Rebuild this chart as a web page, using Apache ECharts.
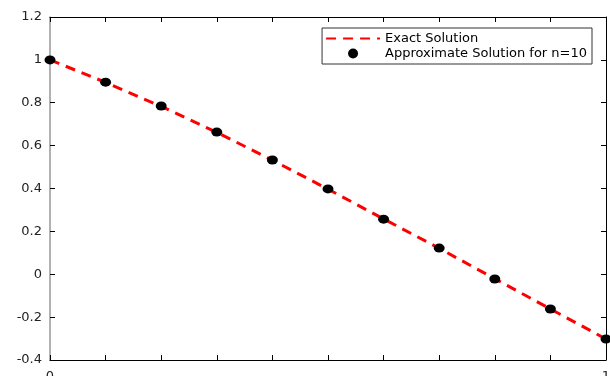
<!DOCTYPE html>
<html>
<head>
<meta charset="utf-8">
<script src="https://cdn.jsdelivr.net/npm/echarts@6/dist/echarts.min.js"></script>
<style>
  html, body { margin: 0; padding: 0; background: #fff; }
  #chart { width: 610px; height: 376px; }
</style>
</head>
<body>
<div id="chart"></div>
<script>
// x nodes and values
const xNodes = [0, 0.1, 0.2, 0.3, 0.4, 0.5, 0.6, 0.7, 0.8, 0.9, 1];
const exactValues = [1, 0.895, 0.783, 0.662, 0.532, 0.397, 0.258, 0.121, -0.021, -0.162, -0.302];
const approxValues = [1, 0.896, 0.785, 0.663, 0.533, 0.398, 0.257, 0.122, -0.022, -0.162, -0.302];
const yTickLabels = ['-0.4', '-0.2', '0', '0.2', '0.4', '0.6', '0.8', '1', '1.2'];

const chart = echarts.init(document.getElementById('chart'));

const fontFamily = '"DejaVu Sans", sans-serif';

const frameXAxis = {
    type: 'value',
    min: 0,
    max: 1,
    interval: 0.1,
    axisLine: { show: true, onZero: false, lineStyle: { color: '#000', width: 1 } },
    axisTick: { show: true, inside: true, length: 5, lineStyle: { color: '#000' } },
    axisLabel: { show: false },
    splitLine: { show: false }
};

const option = {
    animation: false,
    grid: { left: 50, right: 4, top: 17, bottom: 16, outerBoundsMode: 'none', containLabel: false },
    legend: {
        orient: 'vertical',
        right: 18,
        top: 28,
        itemWidth: 54,
        itemHeight: 10,
        itemGap: 2,
        padding: [4, 5, 4, 3],
        borderColor: '#333',
        borderWidth: 1,
        borderRadius: 0,
        backgroundColor: '#fff',
        textStyle: { fontFamily: fontFamily, fontSize: 13, color: '#000' },
        data: [
            { name: 'Exact Solution', itemStyle: { opacity: 0 } },
            { name: 'Approximate Solution for n=10', icon: 'circle' }
        ]
    },
    xAxis: [
        Object.assign({}, frameXAxis, {
            position: 'bottom',
            axisLabel: {
                show: true,
                margin: 10,
                fontFamily: fontFamily,
                fontSize: 13,
                color: '#222',
                formatter: function (v) {
                    return (v === 0 || v === 1) ? String(v) : '';
                }
            }
        }),
        Object.assign({}, frameXAxis, { position: 'top' })
    ],
    yAxis: [
        {
            type: 'value',
            min: -0.4,
            max: 1.2,
            interval: 0.2,
            position: 'left',
            axisLine: { show: true, onZero: false, lineStyle: { color: '#999', width: 1.5 } },
            axisTick: { show: true, inside: true, length: 5, lineStyle: { color: '#000' } },
            axisLabel: {
                margin: 8,
                fontFamily: fontFamily,
                fontSize: 13,
                color: '#222',
                formatter: function (v) {
                    const idx = Math.round((v + 0.4) / 0.2);
                    return yTickLabels[idx];
                }
            },
            splitLine: { show: false }
        },
        {
            type: 'value',
            min: -0.4,
            max: 1.2,
            interval: 0.2,
            position: 'right',
            axisLine: { show: true, onZero: false, lineStyle: { color: '#000', width: 1 } },
            axisTick: { show: true, inside: true, length: 5, lineStyle: { color: '#000' } },
            axisLabel: { show: false },
            splitLine: { show: false }
        }
    ],
    series: [
        {
            name: 'Exact Solution',
            type: 'line',
            symbol: 'none',
            data: xNodes.map((x, i) => [x, exactValues[i]]),
            lineStyle: { color: '#ff0000', width: 3, type: [10, 7] },
            itemStyle: { color: '#ff0000' },
            z: 2
        },
        {
            name: 'Approximate Solution for n=10',
            type: 'scatter',
            symbol: 'circle',
            symbolSize: [11, 9],
            data: xNodes.map((x, i) => [x, approxValues[i]]),
            itemStyle: { color: '#000', opacity: 1 },
            z: 3
        }
    ]
};

chart.setOption(option);
</script>
</body>
</html>
